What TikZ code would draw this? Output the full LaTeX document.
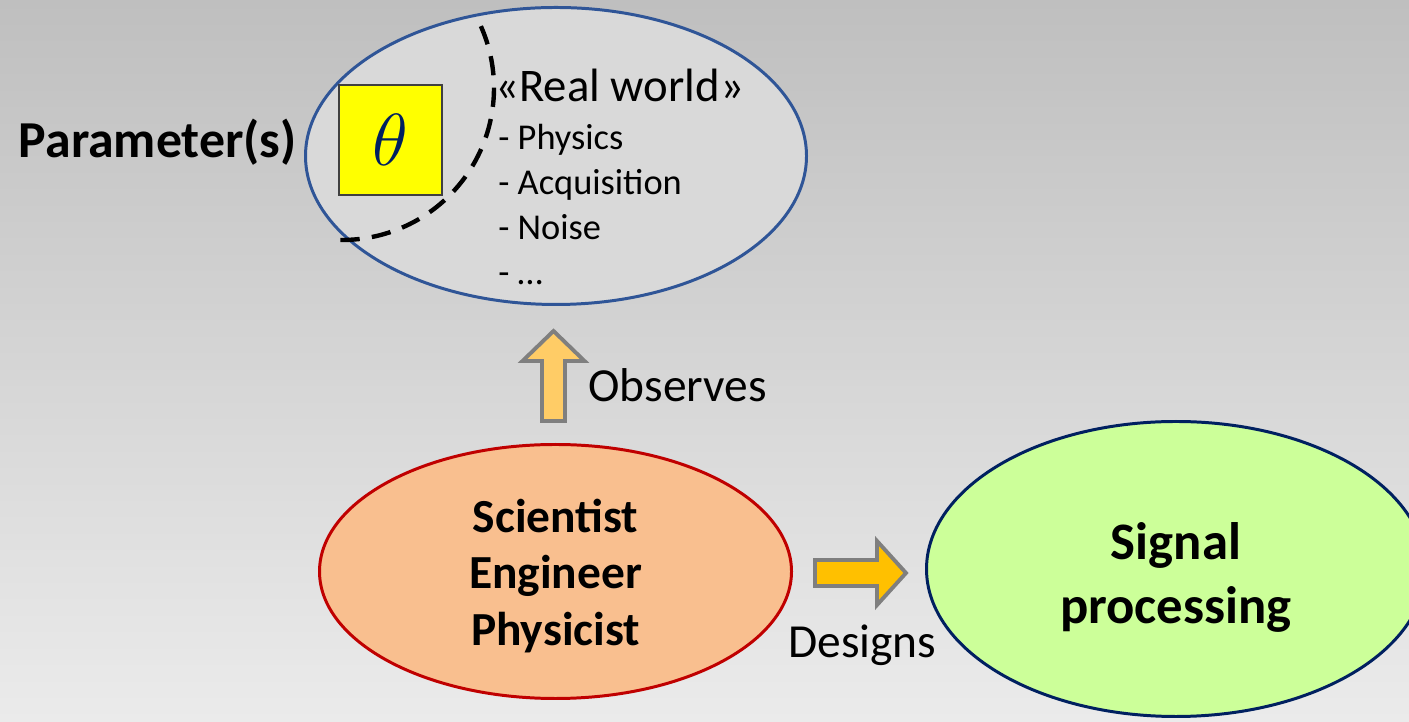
\RequirePackage{fix-cm}
\documentclass[tikz,border=0pt]{standalone}
\usepackage{fontspec}
\setmainfont{Carlito}
\usepackage{tikz}
\usetikzlibrary{shapes.geometric,calc}

\definecolor{bgtop}{HTML}{BFBFBF}
\definecolor{bgbottom}{HTML}{EBEBEB}
\definecolor{worldfill}{HTML}{D9D9D9}
\definecolor{worldblue}{HTML}{2F5597}
\definecolor{paramyellow}{HTML}{FFFF00}
\definecolor{boxgray}{HTML}{404040}
\definecolor{thetablue}{HTML}{002060}
\definecolor{scifill}{HTML}{F9BF8F}
\definecolor{scired}{HTML}{C00000}
\definecolor{sigfill}{HTML}{CCFF99}
\definecolor{signavy}{HTML}{002060}
\definecolor{arrowgray}{HTML}{7F7F7F}
\definecolor{obsfill}{HTML}{FFCC66}
\definecolor{desfill}{HTML}{FFC000}

\begin{document}
\begin{tikzpicture}[
            blob/.style={ellipse, draw, line width=1.7pt, inner sep=0pt},
            blobtext/.style={align=center, inner sep=0pt},
            block/.style={draw=arrowgray, line width=2.2pt, line join=miter},
            bullet/.style={anchor=base west, inner sep=0pt, font=\fontsize{20.7}{24}\selectfont},
            lbl/.style={anchor=base west, inner sep=0pt, font=\fontsize{27}{32}\selectfont},
            dashline/.style={dash pattern=on 11pt off 7pt, line width=2.5pt},
        ]

            %% Hintergrund
            \shade[top color=bgtop, bottom color=bgbottom] (0,0) rectangle (28.18,14.44);
            \useasboundingbox (0,0) rectangle (28.18,14.44);

            %% Panel 1: real world
            \node[blob, fill=worldfill, draw=worldblue, minimum width=10.02cm,
                  minimum height=5.94cm] (world) at (11.12,11.32) {};
            \node[draw=boxgray, line width=0.6pt, fill=paramyellow, minimum width=2.06cm,
                  minimum height=2.2cm, inner sep=0pt, text=thetablue] (theta) at (7.81,11.64)
                  {\fontsize{42}{48}\selectfont$\theta$};
            \coordinate (arc centre) at (6.84,12.68);
            \draw[dashline] ($(arc centre)+(24:3.04)$) arc[start angle=24, end angle=-91, radius=3.04cm];
            \node[font=\bfseries\fontsize{29.5}{34}\selectfont, anchor=east, inner sep=0pt]
                  (param) at (5.94,11.6) {Parameter(s)};
            \node[bullet, font=\fontsize{26.6}{30}\selectfont] (realworld) at (9.9,12.4) {«Real world»};
            \foreach \entry [count=\i] in {Physics, Acquisition, Noise, …} {
                \node[bullet] (entry\i) at (9.96, 12.34-0.9*\i) {- \entry};
            }

            %% Panel 2: scientist
            \node[blob, fill=scifill, draw=scired, minimum width=9.44cm, minimum height=5.08cm]
                  (sci) at (11.11,3.01) {};
            \node[blobtext, font=\bfseries\fontsize{27}{32.4}\selectfont] (sci text)
                  at ($(sci.center)+(0,-0.09)$) {Scientist\\Engineer\\Physicist};

            %% Panel 3: signal processing
            \node[blob, fill=sigfill, draw=signavy, minimum width=9.98cm, minimum height=5.9cm]
                  (sig) at (23.52,3.06) {};
            \node[blobtext, font=\bfseries\fontsize{30}{36.4}\selectfont] (sig text)
                  at ($(sig.center)+(0,-0.16)$) {Signal\\processing};

            %% Pfeil: observes
            \coordinate (obs tail) at (11.07,6.02);
            \coordinate (obs tip)  at (11.07,7.82);
            \draw[block, fill=obsfill] ($(obs tail)+(-0.23,0)$) -- ++(0,1.2) -- ++(-0.39,0)
                  -- (obs tip) -- ++(0.62,-0.6) -- ++(-0.39,0) -- ++(0,-1.2) -- cycle;
            \node[lbl] (observes) at (11.76,6.4) {Observes};

            %% Pfeil: designs
            \coordinate (des tail) at (16.3,2.98);
            \coordinate (des tip)  at (18.12,2.98);
            \draw[block, fill=desfill] ($(des tail)+(0,0.26)$) -- ++(1.24,0) -- ++(0,0.38)
                  -- (des tip) -- ++(-0.58,-0.64) -- ++(0,0.38) -- ++(-1.24,0) -- cycle;
            \node[lbl] (designs) at (15.76,1.28) {Designs};

        \end{tikzpicture}
\end{document}
